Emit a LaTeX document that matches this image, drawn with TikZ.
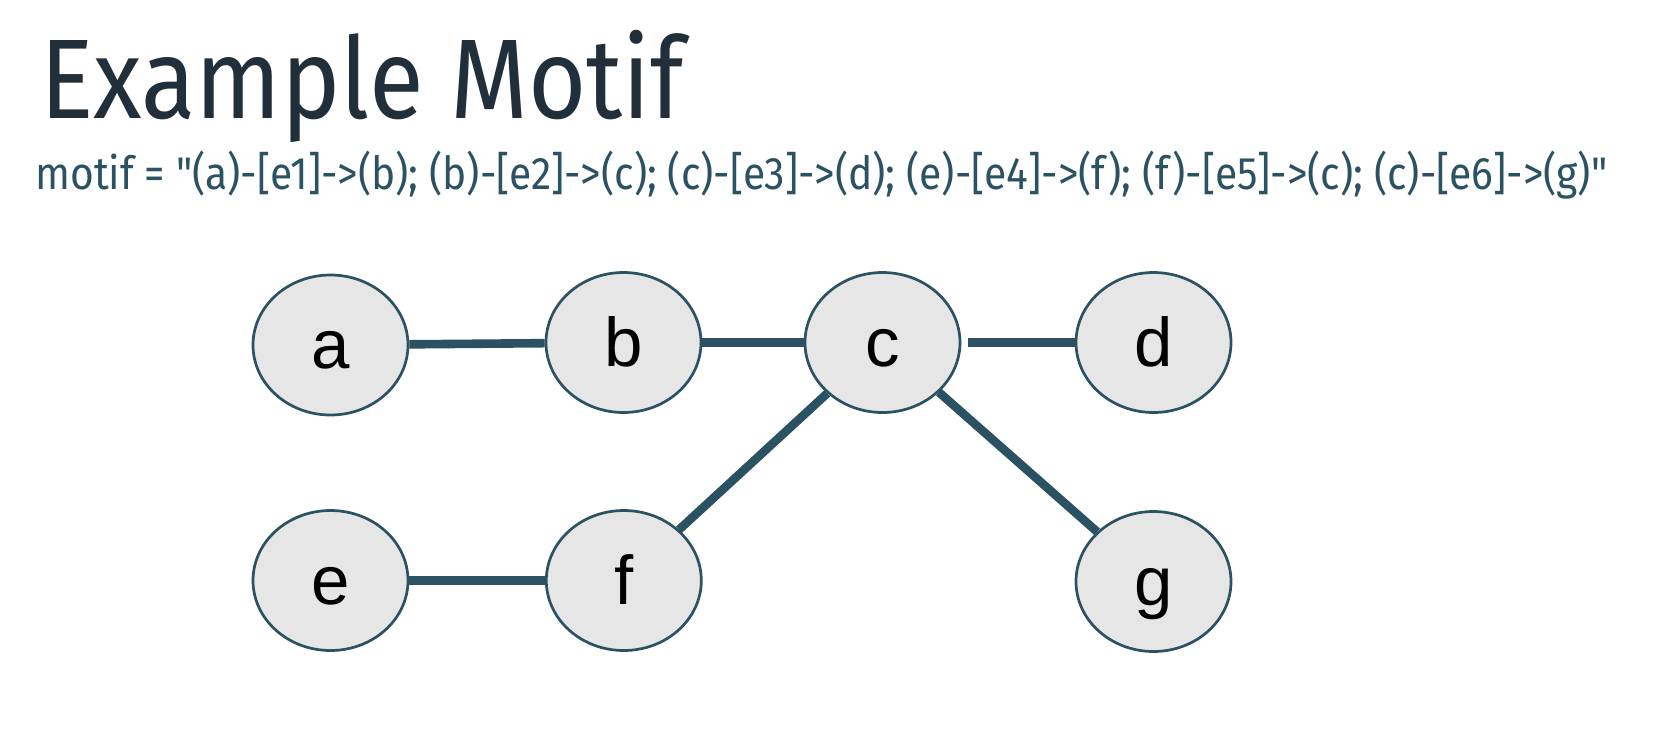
\documentclass[tikz,border=0pt]{standalone}
\usepackage{fontspec}
\usepackage{graphicx}
\setmainfont{Liberation Sans}
\newfontfamily\headfont{Fira Sans}
\usetikzlibrary{shapes.geometric}
\definecolor{titlecol}{HTML}{212F3A}
\definecolor{teal}{HTML}{2A5263}
\definecolor{nodefill}{HTML}{E6E6E6}
\tikzset{
  vertex/.style={ellipse, draw=teal, fill=nodefill, line width=1.35pt,
    minimum width=77.5pt, minimum height=70pt, inner sep=0pt,
    font=\fontsize{34.5pt}{36pt}\selectfont, text=black,
    text height=23.5pt, text depth=0pt},
  link/.style={draw=teal, line width=4.3pt},
  titletext/.style={anchor=base west, inner sep=0pt, text=titlecol},
  subtext/.style={anchor=base west, inner sep=0pt, text=teal}
}
\begin{document}
\begin{tikzpicture}[x=0.5pt,y=-0.5pt]
\useasboundingbox (0,0) rectangle (1676,734);
\node[titletext] (title) at (40,118.3)
  {\resizebox{322pt}{\height}{\headfont\fontsize{56.6pt}{60pt}\selectfont Example Motif}};
\node[subtext] (sub) at (35,189.3)
  {\resizebox{786pt}{\height}{\headfont\fontsize{22.8pt}{26pt}\selectfont motif = "(a)-[e1]-{}>(b); (b)-[e2]-{}>(c); (c)-[e3]-{}>(d); (e)-[e4]-{}>(f); (f)-[e5]-{}>(c); (c)-[e6]-{}>(g)"}};

\node[vertex] (a) at (330.5,345) {a};
\node[vertex] (b) at (623.5,342.5) {b};
\node[vertex] (c) at (882.5,342.5) {c};
\node[vertex] (d) at (1153.5,342.5) {d};
\node[vertex] (e) at (330.5,580.5) {e};
\node[vertex] (f) at (623.8,580.5) {f};
\node[vertex] (g) at (1153.5,581.5) {g};

\draw[link] (a) -- (b);
\draw[link] (b) -- (c);
\draw[link, shorten <=3.35pt] (c) -- (d);
\draw[link] (e) -- (f);
\draw[link] (f) -- (c);
\draw[link] (c) -- (g);
\end{tikzpicture}
\end{document}
